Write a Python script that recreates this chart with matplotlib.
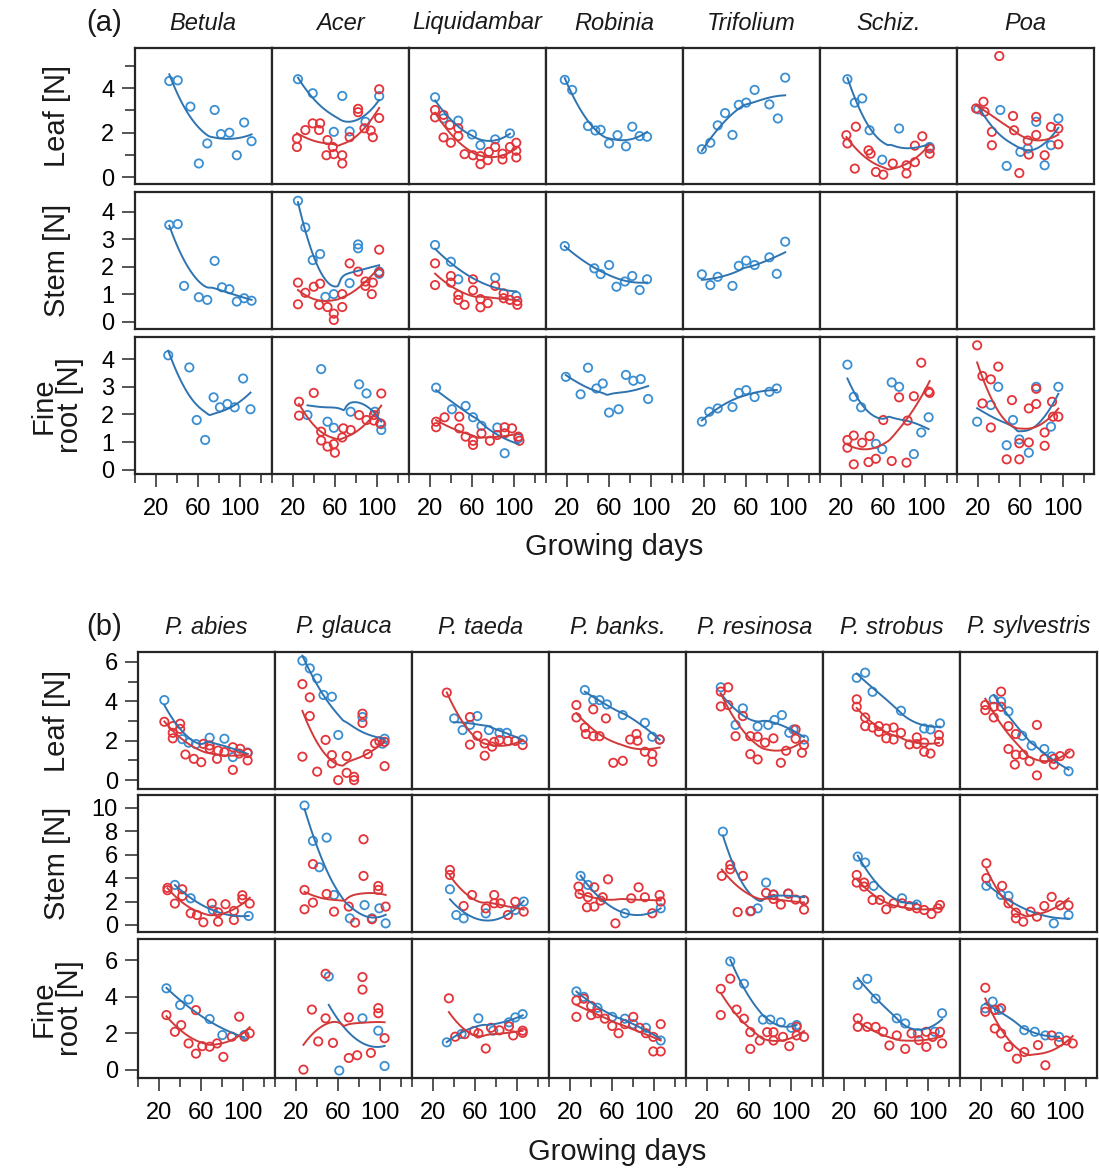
import numpy as np
import matplotlib.pyplot as plt

plt.rcParams['font.family'] = ['Liberation Sans', 'DejaVu Sans']

W, H = 1099, 1170
BLUE = '#3a8fd3'
RED = '#e4343a'
BLUE_LINE = '#2f74b0'
RED_LINE = '#d23a3a'
FRAME = '#262626'

# ---------------- panel (a) ----------------
species_a = ['Betula', 'Acer', 'Liquidambar', 'Robinia', 'Trifolium', 'Schiz.', 'Poa']

# Leaf
betula_leaf_bx = [33, 41, 53, 76, 69, 61, 82, 90, 104, 97, 111]
betula_leaf_by = [4.32, 4.35, 3.17, 3.02, 1.52, 0.62, 1.94, 2.0, 2.46, 0.99, 1.62]
acer_leaf_bx = [25, 39, 67, 59, 74, 102, 89]
acer_leaf_by = [4.4, 3.77, 3.65, 2.04, 2.06, 3.64, 2.49]
acer_leaf_rx = [24, 24, 32, 39, 46, 45, 53, 58, 52, 59, 67, 67, 74, 82, 82, 94, 96, 102, 102, 88]
acer_leaf_ry = [1.74, 1.36, 2.12, 2.42, 2.42, 2.12, 1.67, 1.36, 0.99, 1.04, 0.99, 0.62, 1.8, 3.07, 2.92, 2.1, 1.8, 3.95, 2.66, 2.2]
liquid_leaf_bx = [25, 33, 47, 60, 68, 82, 96]
liquid_leaf_by = [3.59, 2.64, 2.54, 1.92, 1.44, 1.7, 1.97]
liquid_leaf_rx = [25, 25, 33, 39, 47, 33, 40, 47, 53, 61, 68, 68, 75, 76, 82, 89, 89, 96, 102, 102, 102]
liquid_leaf_ry = [3.02, 2.69, 2.8, 2.35, 2.2, 1.79, 1.55, 1.85, 1.04, 0.99, 0.59, 0.95, 0.77, 1.14, 1.36, 1.06, 0.8, 1.36, 1.55, 1.19, 0.89]
robinia_leaf_bx = [18, 25, 40, 47, 52, 60, 68, 76, 82, 89, 96]
robinia_leaf_by = [4.37, 3.92, 2.3, 2.1, 2.13, 1.52, 1.89, 1.39, 2.27, 1.85, 1.82]
trifol_leaf_bx = [18, 26, 33, 40, 47, 53, 60, 68, 82, 90, 97]
trifol_leaf_by = [1.26, 1.55, 2.33, 2.88, 1.9, 3.25, 3.35, 3.92, 3.27, 2.64, 4.47]
schiz_leaf_bx = [26, 33, 40, 47, 75, 59, 104]
schiz_leaf_by = [4.4, 3.35, 3.54, 2.11, 2.19, 0.79, 1.36]
schiz_leaf_rx = [25, 26, 34, 46, 48, 33, 53, 60, 69, 82, 82, 90, 90, 97, 104, 104]
schiz_leaf_ry = [1.89, 1.52, 2.27, 1.21, 1.06, 0.39, 0.24, 0.12, 0.62, 0.54, 0.17, 0.68, 1.42, 1.84, 1.29, 1.06]
poa_leaf_bx = [20, 41, 47, 60, 67, 75, 83, 89, 96]
poa_leaf_by = [3.05, 3.02, 0.51, 1.14, 1.29, 2.49, 0.54, 1.44, 2.64]
poa_leaf_rx = [40, 18, 25, 26, 33, 33, 53, 54, 59, 67, 68, 75, 75, 83, 89, 96, 96]
poa_leaf_ry = [5.44, 3.09, 3.39, 2.94, 2.04, 1.44, 2.75, 2.11, 0.19, 1.65, 1.02, 2.71, 1.9, 0.99, 2.26, 2.19, 1.48]

# Stem
betula_stem_bx = [33, 41, 47, 61, 69, 76, 83, 90, 97, 104, 111]
betula_stem_by = [3.52, 3.55, 1.3, 0.89, 0.79, 2.21, 1.25, 1.18, 0.73, 0.85, 0.76]
acer_stem_bx = [25, 32, 39, 46, 51, 59, 74, 82, 82, 102, 102]
acer_stem_by = [4.4, 3.43, 2.24, 2.46, 0.9, 1.0, 1.4, 2.81, 2.67, 1.82, 1.74]
acer_stem_rx = [25, 25, 32, 40, 46, 45, 53, 59, 59, 67, 67, 74, 82, 89, 89, 95, 96, 102, 102]
acer_stem_ry = [1.42, 0.63, 1.05, 1.27, 1.38, 0.61, 0.53, 0.29, 0.06, 0.53, 1.0, 2.12, 1.82, 1.46, 1.3, 1.0, 1.42, 2.62, 1.78]
liquid_stem_bx = [25, 40, 47, 82, 102]
liquid_stem_by = [2.79, 2.18, 1.54, 1.6, 0.93]
liquid_stem_rx = [25, 25, 40, 40, 47, 47, 53, 61, 61, 68, 68, 75, 82, 90, 90, 96, 103, 103]
liquid_stem_ry = [2.12, 1.33, 1.66, 1.42, 0.97, 0.79, 0.61, 1.54, 1.14, 0.82, 0.52, 0.67, 1.3, 1.03, 0.85, 0.79, 0.61, 0.75]
robinia_stem_bx = [18, 46, 52, 60, 67, 75, 82, 89, 96]
robinia_stem_by = [2.75, 1.94, 1.73, 2.06, 1.27, 1.46, 1.66, 1.15, 1.54]
trifol_stem_bx = [18, 26, 33, 47, 53, 60, 68, 82, 89, 97]
trifol_stem_by = [1.72, 1.33, 1.63, 1.3, 2.03, 2.22, 2.06, 2.34, 1.74, 2.91]

# Fine root
betula_root_bx = [32, 52, 59, 67, 75, 81, 88, 95, 103, 110]
betula_root_by = [4.14, 3.7, 1.8, 1.08, 2.62, 2.26, 2.38, 2.26, 3.3, 2.19]
acer_root_bx = [34, 47, 53, 59, 75, 83, 90, 98, 104, 104]
acer_root_by = [1.98, 3.64, 1.74, 1.52, 2.1, 3.09, 2.76, 2.1, 1.65, 1.44]
acer_root_rx = [26, 26, 40, 47, 47, 53, 59, 60, 67, 68, 75, 83, 90, 97, 97, 104, 103]
acer_root_ry = [2.46, 1.96, 2.78, 1.38, 1.06, 0.84, 0.93, 0.62, 1.17, 1.5, 1.44, 1.98, 1.8, 1.98, 1.78, 2.76, 1.68]
liquid_root_bx = [26, 41, 54, 61, 69, 84, 91, 104]
liquid_root_by = [2.97, 2.19, 2.31, 1.9, 1.59, 1.53, 0.6, 1.14]
liquid_root_rx = [26, 26, 34, 48, 48, 54, 61, 61, 69, 77, 84, 91, 91, 98, 104, 105]
liquid_root_ry = [1.74, 1.54, 1.9, 1.92, 1.5, 1.2, 1.05, 0.9, 1.32, 1.05, 1.26, 1.54, 1.32, 1.5, 1.2, 1.05]
robinia_root_bx = [19, 33, 40, 48, 54, 60, 69, 76, 83, 90, 97]
robinia_root_by = [3.36, 2.73, 3.69, 2.94, 3.12, 2.07, 2.19, 3.43, 3.22, 3.28, 2.56]
trifol_root_bx = [18, 25, 33, 47, 53, 60, 68, 82, 89]
trifol_root_by = [1.74, 2.1, 2.22, 2.27, 2.78, 2.88, 2.63, 2.82, 2.94]
schiz_root_bx = [26, 32, 39, 53, 59, 68, 75, 89, 96, 103]
schiz_root_by = [3.8, 2.64, 2.26, 0.94, 0.75, 3.16, 3.0, 0.57, 1.35, 1.9]
schiz_root_rx = [26, 26, 32, 40, 47, 32, 46, 53, 68, 82, 60, 75, 83, 89, 96, 103, 104]
schiz_root_ry = [1.08, 0.8, 1.24, 0.98, 1.22, 0.2, 0.28, 0.4, 0.32, 0.26, 1.8, 2.62, 1.78, 2.66, 3.87, 2.83, 2.78]
poa_root_bx = [19, 32, 39, 47, 53, 59, 68, 75, 89, 96]
poa_root_by = [1.74, 2.34, 3.0, 0.89, 1.8, 1.1, 0.62, 3.0, 1.56, 3.0]
poa_root_rx = [19, 24, 32, 39, 24, 32, 52, 47, 59, 59, 68, 68, 75, 75, 83, 83, 90, 91, 96]
poa_root_ry = [4.5, 3.39, 3.27, 3.73, 2.4, 1.53, 2.52, 0.38, 0.38, 0.96, 0.99, 2.22, 2.38, 2.93, 1.35, 0.87, 2.46, 1.92, 1.92]

# ---------------- panel (b) ----------------
species_b = ['P. abies', 'P. glauca', 'P. taeda', 'P. banks.', 'P. resinosa', 'P. strobus', 'P. sylvestris']

# Leaf
abies_leaf_bx = [25, 42, 48, 55, 68, 82, 90, 104]
abies_leaf_by = [4.06, 2.08, 1.9, 1.83, 2.15, 2.1, 1.17, 1.4]
abies_leaf_rx = [25, 33, 33, 33, 40, 40, 45, 53, 60, 62, 68, 68, 75, 76, 82, 90, 90, 96, 97, 104, 104]
abies_leaf_ry = [2.96, 2.74, 2.4, 2.12, 2.86, 2.6, 1.3, 1.08, 0.91, 1.84, 1.76, 1.59, 1.08, 1.5, 1.42, 0.52, 1.67, 1.35, 1.59, 1.0, 1.37]
glauca_leaf_bx = [26, 33, 40, 46, 54, 60, 83, 102, 104]
glauca_leaf_by = [6.06, 5.67, 5.16, 4.32, 4.23, 2.29, 3.2, 1.85, 2.1]
glauca_leaf_rx = [26, 33, 33, 26, 40, 48, 54, 54, 60, 68, 75, 75, 68, 83, 83, 88, 95, 104, 104, 99]
glauca_leaf_ry = [4.87, 4.2, 3.25, 1.19, 0.43, 2.04, 0.85, 1.27, 0.0, 0.37, 0.17, 0.0, 1.22, 3.37, 2.9, 1.32, 1.86, 0.71, 1.94, 1.97]
taeda_leaf_bx = [40, 48, 55, 62, 73, 83, 90, 105]
taeda_leaf_by = [3.13, 2.54, 2.8, 3.25, 2.54, 2.4, 2.4, 2.06]
taeda_leaf_rx = [33, 55, 55, 62, 69, 69, 76, 78, 83, 91, 98, 105]
taeda_leaf_ry = [4.44, 3.2, 1.8, 2.25, 1.86, 1.24, 1.7, 1.94, 2.03, 1.99, 1.99, 1.78]
banks_leaf_bx = [34, 42, 48, 55, 70, 91, 98, 105]
banks_leaf_by = [4.57, 4.06, 4.06, 3.84, 3.3, 2.91, 2.2, 2.06]
banks_leaf_rx = [26, 26, 34, 35, 42, 42, 48, 54, 61, 70, 77, 83, 84, 91, 98, 98, 105]
banks_leaf_ry = [3.81, 3.18, 2.67, 2.34, 3.59, 2.23, 2.23, 3.13, 0.88, 0.98, 2.06, 2.34, 2.0, 1.44, 1.32, 0.93, 2.06]
resin_leaf_bx = [33, 47, 54, 68, 78, 84, 91, 98, 102, 112]
resin_leaf_by = [4.71, 2.8, 3.64, 2.72, 2.8, 3.05, 3.3, 2.4, 2.57, 2.06]
resin_leaf_rx = [33, 33, 40, 40, 47, 54, 61, 61, 68, 68, 75, 83, 90, 95, 104, 104, 110, 112]
resin_leaf_ry = [4.49, 3.74, 4.71, 3.81, 2.23, 3.25, 2.23, 1.32, 2.2, 1.05, 1.9, 2.12, 0.88, 1.49, 2.57, 2.1, 1.39, 1.78]
strob_leaf_bx = [32, 40, 47, 74, 96, 102, 111]
strob_leaf_by = [5.19, 5.45, 4.48, 3.52, 2.62, 2.57, 2.88]
strob_leaf_rx = [32, 32, 40, 40, 47, 53, 53, 60, 60, 67, 67, 74, 82, 89, 89, 96, 96, 102, 110, 110]
strob_leaf_ry = [4.1, 3.72, 3.18, 2.74, 2.67, 2.74, 2.45, 2.62, 2.12, 2.67, 2.06, 2.4, 1.81, 2.17, 1.83, 1.9, 1.44, 1.35, 2.29, 1.95]
sylv_leaf_bx = [32, 39, 46, 59, 68, 80, 87, 103]
sylv_leaf_by = [4.1, 3.99, 3.49, 2.25, 1.75, 1.58, 1.2, 0.45]
sylv_leaf_rx = [24, 24, 32, 39, 39, 32, 46, 53, 46, 53, 60, 52, 66, 73, 73, 80, 89, 89, 95, 104]
sylv_leaf_ry = [3.81, 3.55, 3.72, 4.49, 3.72, 3.18, 2.74, 2.34, 1.58, 1.29, 1.29, 0.79, 0.96, 2.8, 0.24, 1.08, 1.08, 0.79, 1.22, 1.35]

# Stem
abies_stem_bx = [35, 50, 71, 105]
abies_stem_by = [3.42, 2.28, 1.28, 0.77]
abies_stem_rx = [28, 28, 35, 42, 42, 50, 56, 62, 70, 76, 76, 83, 91, 91, 99, 99, 106]
abies_stem_ry = [3.17, 2.97, 1.83, 3.05, 2.48, 1.0, 0.85, 0.23, 1.83, 0.28, 1.08, 1.77, 1.2, 0.43, 2.54, 2.2, 1.83]
glauca_stem_bx = [28, 36, 49, 42, 56, 71, 85, 92, 99, 105]
glauca_stem_by = [10.2, 7.18, 7.46, 4.93, 2.56, 0.57, 1.7, 0.57, 1.42, 0.14]
glauca_stem_rx = [28, 28, 36, 36, 49, 56, 70, 76, 84, 84, 92, 98, 98, 105]
glauca_stem_ry = [2.99, 1.34, 1.91, 5.2, 2.65, 1.14, 1.57, 0.2, 7.32, 4.19, 0.49, 3.33, 2.99, 1.57]
taeda_stem_bx = [36, 42, 49, 70, 98, 106]
taeda_stem_by = [3.05, 0.85, 0.57, 0.99, 1.28, 2.0]
taeda_stem_rx = [36, 36, 49, 57, 70, 78, 78, 84, 91, 98, 106]
taeda_stem_ry = [4.7, 4.27, 1.62, 2.56, 1.42, 2.56, 1.85, 1.85, 0.85, 1.99, 1.14]
banks_stem_bx = [30, 37, 72, 106]
banks_stem_by = [4.19, 3.42, 1.0, 1.42]
banks_stem_rx = [28, 29, 43, 37, 36, 49, 51, 56, 63, 78, 85, 91, 98, 105, 106, 43]
banks_stem_ry = [3.28, 2.65, 3.22, 2.37, 1.51, 2.08, 2.37, 3.9, 0.14, 2.28, 3.22, 2.37, 1.0, 2.56, 2.0, 1.57]
resin_stem_bx = [35, 62, 68, 76, 83, 97, 112]
resin_stem_by = [7.97, 1.2, 1.42, 3.62, 2.6, 2.68, 2.11]
resin_stem_rx = [42, 42, 34, 54, 49, 61, 76, 83, 83, 90, 97, 104, 112, 112]
resin_stem_ry = [5.13, 4.76, 4.19, 4.19, 1.1, 1.17, 2.74, 2.6, 2.22, 1.74, 2.68, 2.17, 2.11, 1.31]
strob_stem_bx = [33, 40, 48, 75, 89]
strob_stem_by = [5.84, 5.33, 3.34, 2.28, 1.74]
strob_stem_rx = [32, 32, 39, 39, 47, 54, 60, 67, 75, 82, 89, 96, 103, 109, 111]
strob_stem_ry = [4.27, 3.62, 3.62, 3.28, 2.14, 2.14, 1.34, 1.85, 1.85, 1.62, 1.42, 1.28, 0.94, 1.42, 1.71]
sylv_stem_bx = [25, 39, 46, 89, 103]
sylv_stem_by = [3.34, 2.57, 2.48, 0.14, 0.85]
sylv_stem_rx = [25, 25, 40, 46, 53, 53, 60, 67, 73, 80, 87, 95, 103]
sylv_stem_ry = [5.27, 4.0, 3.34, 1.85, 1.05, 0.57, 0.28, 1.14, 0.71, 1.62, 2.4, 1.68, 1.68]

# Fine root
abies_root_bx = [27, 40, 48, 68, 80, 101]
abies_root_by = [4.47, 3.55, 3.86, 2.78, 1.9, 1.9]
abies_root_rx = [27, 35, 41, 48, 55, 61, 68, 75, 81, 89, 96, 101, 106, 55]
abies_root_ry = [3.0, 2.08, 2.45, 1.44, 0.88, 1.29, 1.26, 1.44, 0.7, 1.81, 2.91, 1.81, 2.0, 3.27]
glauca_root_bx = [51, 61, 83, 98, 104]
glauca_root_by = [5.12, -0.05, 2.82, 2.14, 0.2]
glauca_root_rx = [27, 35, 41, 48, 48, 55, 70, 78, 83, 83, 91, 98, 98, 104, 70]
glauca_root_ry = [0.0, 3.3, 1.55, 2.82, 5.27, 1.47, 0.64, 0.79, 5.09, 4.4, 0.92, 3.38, 3.1, 1.73, 2.87]
taeda_root_bx = [33, 47, 63, 77, 92, 98, 105]
taeda_root_by = [1.5, 1.96, 2.82, 2.14, 2.6, 2.87, 3.05]
taeda_root_rx = [35, 41, 50, 59, 63, 70, 75, 83, 92, 96, 105, 105]
taeda_root_ry = [3.92, 1.81, 1.95, 2.12, 1.99, 1.16, 2.3, 2.16, 2.38, 1.88, 2.14, 2.02]
banks_root_bx = [26, 33, 46, 60, 72, 80, 92, 106]
banks_root_by = [4.3, 4.0, 3.4, 2.9, 2.8, 2.5, 2.3, 1.6]
banks_root_rx = [26, 26, 33, 40, 40, 46, 53, 60, 66, 72, 80, 86, 92, 99, 99, 106, 106]
banks_root_ry = [3.8, 2.9, 3.9, 3.5, 3.0, 3.1, 2.8, 2.4, 2.0, 2.5, 2.9, 2.3, 2.0, 1.8, 1.0, 2.5, 1.0]
resin_root_bx = [42, 55, 73, 80, 90, 100, 105]
resin_root_by = [5.95, 4.72, 2.75, 2.75, 2.6, 2.3, 2.45]
resin_root_rx = [33, 33, 42, 48, 55, 61, 61, 70, 77, 83, 83, 92, 98, 105, 105, 112]
resin_root_ry = [4.44, 3.0, 5.0, 3.3, 2.8, 2.06, 1.14, 1.6, 2.06, 2.06, 1.6, 1.8, 1.29, 2.35, 1.88, 1.8]
strob_root_bx = [33, 42, 50, 70, 78, 90, 106, 113]
strob_root_by = [4.66, 4.99, 3.9, 2.82, 2.54, 2.0, 2.08, 3.1]
strob_root_rx = [33, 33, 42, 50, 57, 63, 70, 78, 84, 91, 98, 98, 104, 111, 113]
strob_root_ry = [2.82, 2.35, 2.35, 2.35, 2.08, 1.33, 1.88, 1.14, 1.99, 1.62, 2.08, 1.25, 1.8, 2.08, 1.44]
sylv_root_bx = [24, 31, 37, 61, 71, 81, 94]
sylv_root_by = [3.37, 3.74, 3.28, 2.17, 2.08, 1.88, 1.8]
sylv_root_rx = [24, 24, 33, 39, 33, 39, 46, 54, 61, 74, 81, 87, 94, 101, 107]
sylv_root_ry = [4.5, 3.18, 3.28, 3.37, 2.26, 1.99, 1.25, 0.6, 0.97, 1.35, 0.24, 1.88, 1.51, 1.6, 1.44]

# grid of series: row -> list of (blue x, blue y, red x, red y) per column
E = None
grid_a = [
    [(betula_leaf_bx, betula_leaf_by, E, E), (acer_leaf_bx, acer_leaf_by, acer_leaf_rx, acer_leaf_ry),
     (liquid_leaf_bx, liquid_leaf_by, liquid_leaf_rx, liquid_leaf_ry), (robinia_leaf_bx, robinia_leaf_by, E, E),
     (trifol_leaf_bx, trifol_leaf_by, E, E), (schiz_leaf_bx, schiz_leaf_by, schiz_leaf_rx, schiz_leaf_ry),
     (poa_leaf_bx, poa_leaf_by, poa_leaf_rx, poa_leaf_ry)],
    [(betula_stem_bx, betula_stem_by, E, E), (acer_stem_bx, acer_stem_by, acer_stem_rx, acer_stem_ry),
     (liquid_stem_bx, liquid_stem_by, liquid_stem_rx, liquid_stem_ry), (robinia_stem_bx, robinia_stem_by, E, E),
     (trifol_stem_bx, trifol_stem_by, E, E), (E, E, E, E), (E, E, E, E)],
    [(betula_root_bx, betula_root_by, E, E), (acer_root_bx, acer_root_by, acer_root_rx, acer_root_ry),
     (liquid_root_bx, liquid_root_by, liquid_root_rx, liquid_root_ry), (robinia_root_bx, robinia_root_by, E, E),
     (trifol_root_bx, trifol_root_by, E, E), (schiz_root_bx, schiz_root_by, schiz_root_rx, schiz_root_ry),
     (poa_root_bx, poa_root_by, poa_root_rx, poa_root_ry)],
]
grid_b = [
    [(abies_leaf_bx, abies_leaf_by, abies_leaf_rx, abies_leaf_ry), (glauca_leaf_bx, glauca_leaf_by, glauca_leaf_rx, glauca_leaf_ry),
     (taeda_leaf_bx, taeda_leaf_by, taeda_leaf_rx, taeda_leaf_ry), (banks_leaf_bx, banks_leaf_by, banks_leaf_rx, banks_leaf_ry),
     (resin_leaf_bx, resin_leaf_by, resin_leaf_rx, resin_leaf_ry), (strob_leaf_bx, strob_leaf_by, strob_leaf_rx, strob_leaf_ry),
     (sylv_leaf_bx, sylv_leaf_by, sylv_leaf_rx, sylv_leaf_ry)],
    [(abies_stem_bx, abies_stem_by, abies_stem_rx, abies_stem_ry), (glauca_stem_bx, glauca_stem_by, glauca_stem_rx, glauca_stem_ry),
     (taeda_stem_bx, taeda_stem_by, taeda_stem_rx, taeda_stem_ry), (banks_stem_bx, banks_stem_by, banks_stem_rx, banks_stem_ry),
     (resin_stem_bx, resin_stem_by, resin_stem_rx, resin_stem_ry), (strob_stem_bx, strob_stem_by, strob_stem_rx, strob_stem_ry),
     (sylv_stem_bx, sylv_stem_by, sylv_stem_rx, sylv_stem_ry)],
    [(abies_root_bx, abies_root_by, abies_root_rx, abies_root_ry), (glauca_root_bx, glauca_root_by, glauca_root_rx, glauca_root_ry),
     (taeda_root_bx, taeda_root_by, taeda_root_rx, taeda_root_ry), (banks_root_bx, banks_root_by, banks_root_rx, banks_root_ry),
     (resin_root_bx, resin_root_by, resin_root_rx, resin_root_ry), (strob_root_bx, strob_root_by, strob_root_rx, strob_root_ry),
     (sylv_root_bx, sylv_root_by, sylv_root_rx, sylv_root_ry)],
]

row_labels = ['Leaf [N]', 'Stem [N]', 'Fine\nroot [N]']
ylims_a = [(-0.3, 5.8), (-0.27, 4.72), (-0.15, 4.8)]
yticks_a = [([0, 2, 4], [1, 3, 5]), ([0, 1, 2, 3, 4], []), ([0, 1, 2, 3, 4], [])]
ylims_b = [(-0.45, 6.5), (-0.6, 11.1), (-0.46, 7.18)]
yticks_b = [([0, 2, 4, 6], [1, 3, 5]), ([0, 2, 4, 6, 8, 10], []), ([0, 2, 4, 6], [])]


def smooth(x, y, n=60):
    # loess-like smoother: local quadratic with tricube weights over the full span;
    # plain quadratic for very small series
    x = np.asarray(x, float)
    y = np.asarray(y, float)
    xs = np.linspace(x.min(), x.max(), n)
    if len(x) <= 6:
        return xs, np.polyval(np.polyfit(x, y, 2), xs)
    ys = []
    for x0 in xs:
        d = np.abs(x - x0)
        h = d.max() * 1.15 + 1e-6
        w = (1 - (d / h) ** 3) ** 3
        c = np.polyfit(x - x0, y, 2, w=np.sqrt(w))
        ys.append(c[-1])
    return xs, np.array(ys)


def draw_panel(fig, grid, ylims, yticks, left, col_w, rows_px, species, tag, title_y, xlab_y):
    for r, (top, bot) in enumerate(rows_px):
        for c in range(7):
            ax = fig.add_axes([(left + c * col_w) / W, 1 - bot / H, col_w / W, (bot - top) / H])
            bx, by, rx, ry = grid[r][c]
            if bx is not None:
                ax.scatter(bx, by, s=36, facecolors='none', edgecolors=BLUE, linewidths=1.3, zorder=3)
            if rx is not None:
                ax.scatter(rx, ry, s=36, facecolors='none', edgecolors=RED, linewidths=1.3, zorder=3)
            if bx is not None:
                lx, ly = smooth(bx, by)
                ax.plot(lx, ly, color=BLUE_LINE, lw=1.4, zorder=4)
            if rx is not None:
                lx, ly = smooth(rx, ry)
                ax.plot(lx, ly, color=RED_LINE, lw=1.4, zorder=4)
            ax.set_xlim(0, 130)
            ax.set_ylim(*ylims[r])
            for sp in ax.spines.values():
                sp.set_linewidth(1.6)
                sp.set_color(FRAME)
            if c == 0:
                ax.set_yticks(yticks[r][0])
                ax.set_yticks(yticks[r][1], minor=True)
                ax.tick_params(axis='y', which='major', length=9.5, width=1.1, pad=5,
                               labelsize=17, color=FRAME)
                ax.tick_params(axis='y', which='minor', length=7, width=1.1, color=FRAME)
            else:
                ax.set_yticks([])
            if r == 2:
                ax.set_xticks([20, 60, 100])
                ax.set_xticks([0, 40, 80, 120], minor=True)
                ax.tick_params(axis='x', which='major', length=9.5, width=1.1, pad=8,
                               labelsize=17, color=FRAME)
                ax.tick_params(axis='x', which='minor', length=6.5, width=1.1, color=FRAME)
            else:
                ax.set_xticks([])
            if r == 0:
                fig.text((left + (c + 0.5) * col_w) / W, 1 - title_y / H, species[c],
                         ha='center', va='center', fontsize=17, style='italic', color='#1a1a1a')
        fig.text(57 / W, 1 - (top + bot) / 2 / H, row_labels[r], rotation=90, ha='center',
                 va='center', fontsize=21, color='#1a1a1a', linespacing=0.95)
    fig.text(104 / W, 1 - title_y / H, tag, ha='center', va='center', fontsize=21, color='#1a1a1a')
    fig.text((left + 3.5 * col_w) / W, 1 - xlab_y / H, 'Growing days', ha='center', va='center',
             fontsize=21, color='#1a1a1a')


fig = plt.figure(figsize=(W / 100, H / 100), dpi=100)
draw_panel(fig, grid_a, ylims_a, yticks_a, 134.5, 137.1,
           [(48, 184), (192, 329), (337, 474)], species_a, '(a)', 23, 547)
draw_panel(fig, grid_b, ylims_b, yticks_b, 138, 137.0,
           [(652, 789), (795, 932), (939, 1078)], species_b, '(b)', 627, 1152)

fig.savefig('out.png', dpi=100)
